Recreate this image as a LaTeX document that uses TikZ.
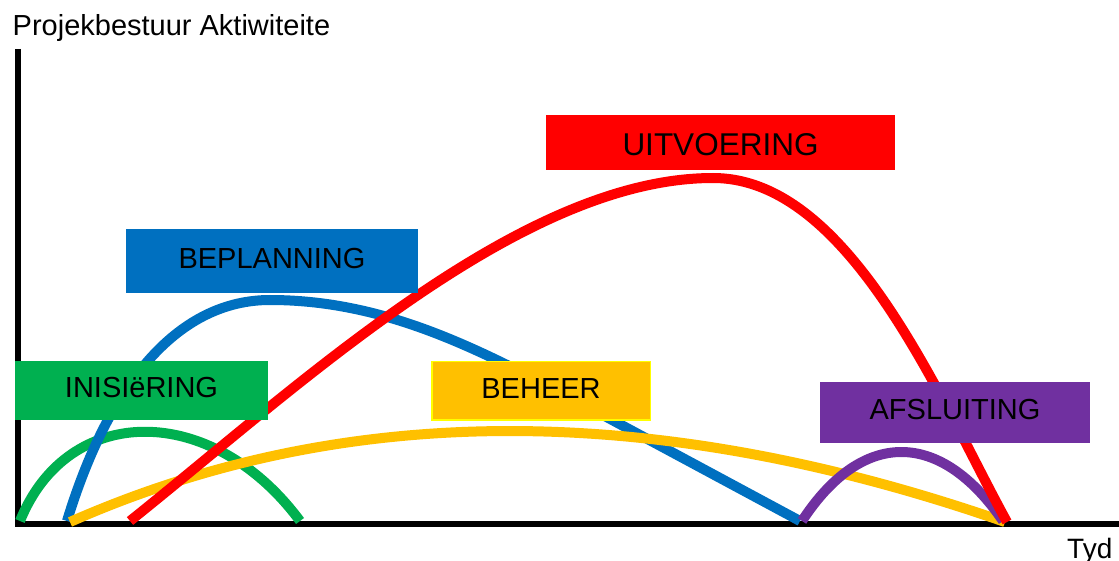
\documentclass[tikz,border=0pt]{standalone}
\usepackage{fontspec}
\setmainfont{Liberation Sans}
\definecolor{cgreen}{HTML}{00B050}
\definecolor{cblue}{HTML}{0070C0}
\definecolor{cred}{HTML}{FF0000}
\definecolor{cyellow}{HTML}{FFC000}
\definecolor{cpurple}{HTML}{7030A0}
\definecolor{cborder}{HTML}{FFFF00}
\begin{document}
\begin{tikzpicture}[x=1pt,y=-1pt,
  phasebox/.style={inner sep=0pt, text depth=6pt, font=\fontsize{29}{34}\selectfont, text=black},
  curve/.style={line width=10pt},
  axisline/.style={line width=5.5pt, black}]
\useasboundingbox (0,0) rectangle (1119,561);
% axes
\coordinate (ytop) at (18,49);
\coordinate (origin) at (18,524);
\coordinate (xend) at (1119,524);
\draw[axisline] (ytop) -- (18,526.75);
\draw[axisline] (15,524) -- (xend);
% curves
\draw[curve, cgreen] (20,521) .. controls (68,402) and (212,402) .. (300,521);
\draw[curve, cblue] (67,521) .. controls (110,380) and (180,300) .. (270,300)
   .. controls (380,300) and (470,345) .. (560,392) -- (800,521);
\draw[curve, cyellow] (70,522) .. controls (344.7,400.7) and (656.3,400.7) .. (1005,522);
\draw[curve, cpurple] (802,521) .. controls (862,429) and (940,429) .. (1003,521);
\draw[curve, cred] (130,521) .. controls (300,385) and (520,178) .. (713,178)
   .. controls (850,178) and (940,400) .. (1007,522);
% boxes
\node[phasebox, fill=cgreen, minimum width=253pt, minimum height=59pt] (inis) at (141.5,390.5) {INISIëRING};
\node[phasebox, fill=cblue, minimum width=292pt, minimum height=64pt] (bepl) at (272,261) {BEPLANNING};
\node[phasebox, fill=cyellow, draw=cborder, line width=1.5pt, text depth=4pt, minimum width=218.5pt, minimum height=58.5pt] (beheer) at (541,390.5) {BEHEER};
\node[phasebox, fill=cred, text depth=0pt, text height=26.5pt, font=\fontsize{31.5}{36}\selectfont, minimum width=349pt, minimum height=55pt] (uitv) at (720.5,142.5) {UITVOERING};
\node[phasebox, fill=cpurple, minimum width=270pt, minimum height=61pt] (afsl) at (955,412.5) {AFSLUITING};
% axis labels
\node[anchor=base west, inner sep=0pt, font=\fontsize{29}{34}\selectfont] (ylabel) at (12.5,36) {Projekbestuur Aktiwiteite};
\node[anchor=base west, inner sep=0pt, font=\fontsize{28}{33}\selectfont] (xlabel) at (1067,558) {Tyd};
\end{tikzpicture}
\end{document}
